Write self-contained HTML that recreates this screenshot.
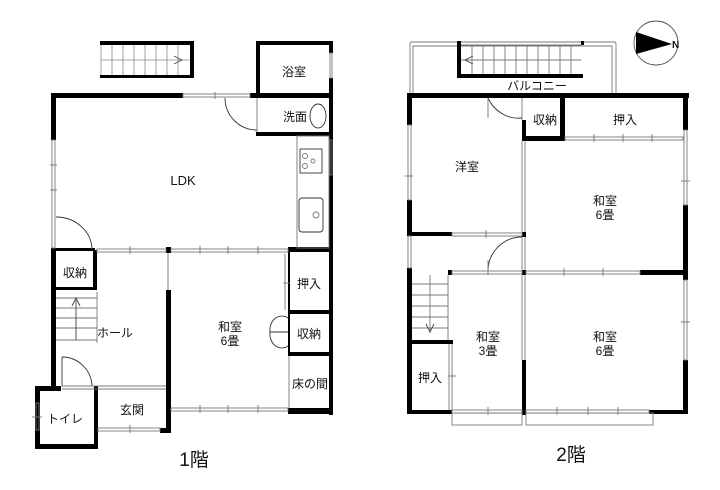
<!DOCTYPE html>
<html><head><meta charset="utf-8"><style>
html,body{margin:0;padding:0;background:#fff;width:720px;height:490px;overflow:hidden}
svg{display:block}
text{font-family:"Liberation Sans","Noto Sans CJK JP",sans-serif;fill:#111}
</style></head><body>
<svg width="720" height="490" viewBox="0 0 720 490" xmlns="http://www.w3.org/2000/svg">
<g fill="#000">
<rect x="100" y="41" width="94" height="4"/>
<rect x="190" y="41" width="4" height="37"/>
<rect x="100" y="75" width="94" height="3"/>
</g>
<g stroke="#888" stroke-width="0.8" fill="none">
<line x1="101" y1="45" x2="101" y2="75"/>
<line x1="101" y1="60" x2="190" y2="60"/>
<line x1="112" y1="45" x2="112" y2="75"/><line x1="123" y1="45" x2="123" y2="75"/><line x1="134" y1="45" x2="134" y2="75"/><line x1="145" y1="45" x2="145" y2="75"/><line x1="156" y1="45" x2="156" y2="75"/><line x1="167" y1="45" x2="167" y2="75"/><line x1="178" y1="45" x2="178" y2="75"/>
<polyline points="174,56 182,60 174,64" stroke="#444"/>
</g>
<g fill="#000">
<rect x="256" y="41" width="77" height="4"/>
<rect x="256" y="41" width="4" height="57"/>
<rect x="329" y="41" width="4" height="12"/>
<rect x="329" y="78" width="4" height="170"/>
<rect x="51" y="93" width="132" height="5"/>
<rect x="250" y="93" width="83" height="5"/>
<rect x="256" y="132" width="77" height="4"/>
<rect x="51" y="93" width="5" height="47"/>
<rect x="51" y="248" width="5" height="140"/>
<rect x="51" y="248" width="44" height="3"/>
<rect x="166" y="247" width="5" height="6"/>
<rect x="288" y="247" width="45" height="5"/>
<rect x="329" y="248" width="4" height="167"/>
<rect x="93" y="250" width="4" height="40"/>
<rect x="56" y="287" width="41" height="3"/>
<rect x="166" y="290" width="5" height="142"/>
<rect x="288" y="310" width="45" height="4"/>
<rect x="288" y="352" width="45" height="4"/>
<rect x="288" y="252" width="2" height="102"/>
<rect x="288" y="408" width="45" height="6"/>
<rect x="35" y="386" width="26" height="5"/>
<rect x="35" y="386" width="5" height="63"/>
<rect x="35" y="444" width="62" height="5"/>
<rect x="94" y="386" width="4" height="63"/>
<rect x="160" y="428" width="11" height="5"/>
</g>
<g stroke="#777" stroke-width="0.9" fill="none">
<rect x="183" y="94" width="67" height="3"/><line x1="215" y1="92" x2="215" y2="99"/>
<rect x="330" y="53" width="2" height="25"/>
<rect x="52" y="140" width="3" height="108"/><line x1="50" y1="165" x2="57" y2="165"/><line x1="50" y1="190" x2="57" y2="190"/>
<rect x="330" y="140" width="2" height="35"/>
<path d="M225,98 A32,32 0 0 0 257,130" stroke="#333"/>
<line x1="257" y1="98" x2="257" y2="132"/>
<path d="M56,217 A36,33 0 0 1 92,250" stroke="#333"/>
<rect x="297" y="136" width="32" height="112"/>
<rect x="300" y="149" width="22" height="24" stroke="#333"/>
<circle cx="305" cy="156" r="2.5"/><circle cx="305" cy="166" r="2.5"/><circle cx="313" cy="161" r="2"/>
<rect x="299" y="198" width="24" height="34" rx="3" stroke="#333"/>
<circle cx="316" cy="215" r="3"/>
<ellipse cx="318" cy="116" rx="8" ry="12" stroke="#333"/>
<rect x="97" y="249" width="69" height="3"/><line x1="130" y1="246" x2="130" y2="254"/>
<rect x="171" y="249" width="117" height="3"/><line x1="200" y1="246" x2="200" y2="254"/><line x1="228" y1="246" x2="228" y2="254"/><line x1="258" y1="246" x2="258" y2="254"/>
<line x1="168" y1="253" x2="168" y2="290"/>
<line x1="285" y1="254" x2="285" y2="310"/><line x1="283" y1="283" x2="290" y2="283"/>
<path d="M288,318 A12,14 0 0 0 270,332 L288,332" stroke="#333"/>
<path d="M288,346 A12,14 0 0 1 270,332" stroke="#333"/>
<line x1="289" y1="356" x2="289" y2="408"/>
<rect x="171" y="408" width="117" height="3"/><line x1="200" y1="405" x2="200" y2="413"/><line x1="228" y1="405" x2="228" y2="413"/><line x1="258" y1="405" x2="258" y2="413"/>
<line x1="56" y1="298" x2="97" y2="298"/><line x1="56" y1="308" x2="97" y2="308"/><line x1="56" y1="318" x2="97" y2="318"/><line x1="56" y1="328" x2="97" y2="328"/><line x1="56" y1="340" x2="97" y2="340"/>
<line x1="97" y1="292" x2="97" y2="343"/>
<line x1="76" y1="300" x2="76" y2="340" stroke="#444"/><polyline points="72,306 76,298 80,306" stroke="#444"/>
<line x1="62" y1="357" x2="62" y2="386" stroke="#333"/>
<path d="M62,357 A30,30 0 0 1 92,386" stroke="#333"/>
<line x1="62" y1="386" x2="166" y2="386"/><line x1="62" y1="389" x2="166" y2="389"/>
<rect x="98" y="428" width="62" height="3"/><line x1="130" y1="425" x2="130" y2="433"/>
<rect x="36" y="403" width="3" height="27"/><line x1="32" y1="417" x2="42" y2="417"/>
</g>
<g stroke="#777" stroke-width="0.9" fill="none">
<path d="M410,95 V44 Q410,42 412,42 H614 Q616,42 616,44 V95"/>
<path d="M413,95 V46 H612 V95"/>
</g>
<g fill="#000">
<rect x="457" y="41" width="4" height="37"/>
<rect x="457" y="74" width="126" height="4"/>
<rect x="581" y="41" width="3" height="4"/>
<rect x="407" y="93" width="282" height="5"/>
<rect x="407" y="93" width="5" height="32"/>
<rect x="407" y="200" width="5" height="36"/>
<rect x="407" y="232" width="45" height="4"/>
<rect x="407" y="268" width="5" height="146"/>
<rect x="407" y="410" width="45" height="4"/>
<rect x="683" y="93" width="5" height="37"/>
<rect x="683" y="205" width="5" height="75"/>
<rect x="683" y="360" width="5" height="54"/>
<rect x="649" y="410" width="39" height="4"/>
<rect x="560" y="98" width="5" height="43"/>
<rect x="522" y="136" width="43" height="5"/>
<rect x="522" y="120" width="4" height="21"/>
<rect x="522" y="232" width="4" height="5"/>
<rect x="522" y="270" width="4" height="5"/>
<rect x="522" y="360" width="4" height="55"/>
<rect x="640" y="270" width="48" height="5"/>
<rect x="407" y="340" width="46" height="4"/>
<rect x="448" y="270" width="4" height="5"/>
</g>
<g stroke="#777" stroke-width="0.9" fill="none">
<line x1="461" y1="45" x2="581" y2="45"/>
<line x1="461" y1="60" x2="581" y2="60"/>
<line x1="472" y1="45" x2="472" y2="74"/><line x1="483" y1="45" x2="483" y2="74"/><line x1="494" y1="45" x2="494" y2="74"/><line x1="505" y1="45" x2="505" y2="74"/><line x1="516" y1="45" x2="516" y2="74"/><line x1="527" y1="45" x2="527" y2="74"/><line x1="538" y1="45" x2="538" y2="74"/><line x1="549" y1="45" x2="549" y2="74"/><line x1="560" y1="45" x2="560" y2="74"/><line x1="571" y1="45" x2="571" y2="74"/>
<polyline points="473,56 465,60 473,64" stroke="#444"/>
<rect x="408" y="125" width="3" height="75"/><line x1="405" y1="176" x2="413" y2="176"/>
<rect x="408" y="236" width="3" height="32"/>
<rect x="684" y="130" width="3" height="75"/><line x1="681" y1="181" x2="690" y2="181"/>
<rect x="684" y="280" width="3" height="80"/><line x1="681" y1="322" x2="690" y2="322"/>
<line x1="522" y1="98" x2="522" y2="120"/>
<line x1="522" y1="141" x2="522" y2="232"/><line x1="525" y1="141" x2="525" y2="232"/>
<line x1="522" y1="237" x2="522" y2="270"/><line x1="525" y1="237" x2="525" y2="270"/>
<line x1="522" y1="275" x2="522" y2="360"/><line x1="525" y1="275" x2="525" y2="360"/>
<path d="M488,98 A34,36 0 0 0 522,118" stroke="#333"/><line x1="488" y1="98" x2="488" y2="118"/>
<rect x="565" y="137" width="118" height="3"/><line x1="594" y1="134" x2="594" y2="142"/><line x1="623" y1="134" x2="623" y2="142"/><line x1="652" y1="134" x2="652" y2="142"/>
<rect x="452" y="233" width="70" height="3"/><line x1="486" y1="230" x2="486" y2="238"/>
<path d="M522,237 A34,34 0 0 0 488,271" stroke="#333"/><line x1="488" y1="260" x2="488" y2="275"/>
<rect x="452" y="271" width="70" height="3"/>
<rect x="526" y="271" width="114" height="3"/><line x1="564" y1="268" x2="564" y2="276"/><line x1="603" y1="268" x2="603" y2="276"/>
<line x1="412" y1="284" x2="448" y2="284"/><line x1="412" y1="295" x2="448" y2="295"/><line x1="412" y1="306" x2="448" y2="306"/><line x1="412" y1="317" x2="448" y2="317"/><line x1="412" y1="328" x2="448" y2="328"/>
<line x1="430" y1="275" x2="430" y2="333"/>
<line x1="448" y1="275" x2="448" y2="340"/>
<polyline points="426,324 430,332 434,324" stroke="#444"/>
<line x1="449" y1="344" x2="449" y2="410"/><line x1="452" y1="344" x2="452" y2="410"/><line x1="448" y1="376" x2="456" y2="376"/>
<rect x="452" y="410" width="70" height="3"/><rect x="452" y="413" width="70" height="12"/><line x1="488" y1="407" x2="488" y2="415"/>
<rect x="526" y="410" width="123" height="3"/><rect x="526" y="413" width="127" height="12"/><line x1="557" y1="407" x2="557" y2="415"/><line x1="588" y1="407" x2="588" y2="415"/><line x1="618" y1="407" x2="618" y2="415"/>
</g>
<circle cx="656" cy="43" r="22" fill="none" stroke="#555" stroke-width="0.9"/>
<polygon points="636,32 636,54 672,44" fill="#000"/>
<text x="672" y="48" font-size="10" font-weight="bold">N</text>
<g font-size="12" text-anchor="middle">
<text x="294" y="76">浴室</text>
<text x="295" y="121">洗面</text>
<text x="183" y="185" font-size="13">LDK</text>
<text x="75" y="277">収納</text>
<text x="115" y="337">ホール</text>
<text x="230" y="331">和室</text><text x="230" y="345">6畳</text>
<text x="309" y="288">押入</text>
<text x="309" y="338">収納</text>
<text x="310" y="388">床の間</text>
<text x="65" y="423">トイレ</text>
<text x="132" y="414">玄関</text>
<text x="537" y="90">バルコニー</text>
<text x="545" y="124">収納</text>
<text x="625" y="124">押入</text>
<text x="467" y="171">洋室</text>
<text x="605" y="205">和室</text><text x="605" y="219">6畳</text>
<text x="488" y="341">和室</text><text x="488" y="355">3畳</text>
<text x="605" y="341">和室</text><text x="605" y="355">6畳</text>
<text x="430" y="382">押入</text>
</g>
<text x="194" y="466" font-size="19" text-anchor="middle">1階</text>
<text x="571" y="461" font-size="19" text-anchor="middle">2階</text>
</svg>
</body></html>
